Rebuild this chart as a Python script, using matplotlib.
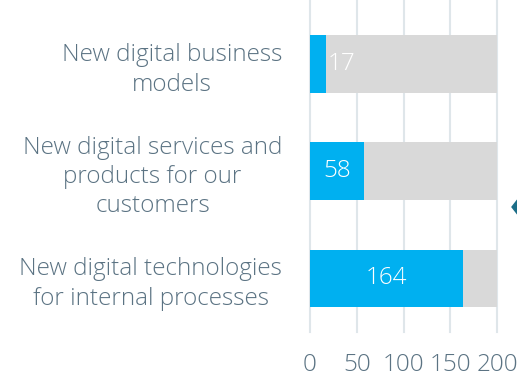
import matplotlib
matplotlib.use('Agg')
import matplotlib.pyplot as plt
from matplotlib.patches import Polygon

# data
categories = ["New digital business\nmodels",
              "New digital services and\nproducts for our\ncustomers",
              "New digital technologies\nfor internal processes"]
values = [17, 58, 164]
total = 200
xticks = [0, 50, 100, 150, 200]

blue = "#00b0f0"
grey = "#d9d9d9"
text_col = "#5b7383"
grid_col = "#dfe6ea"

plt.rcParams['font.family'] = ['Open Sans', 'DejaVu Sans']
fs = 17.5

fig = plt.figure(figsize=(5.17, 3.77), dpi=100)
ax = fig.add_axes([310 / 517, 45 / 377, 187 / 517, 332 / 377])

pos = list(range(len(categories)))
ax.barh(pos, [total] * len(pos), height=0.54, color=grey, zorder=2)
ax.barh(pos, values, height=0.54, color=blue, zorder=3)

for y, v in zip(pos, values):
    if v < 30:
        ax.text(v + 2, y, str(v), color="white", fontsize=fs, va="center", ha="left", zorder=4, fontweight="light")
    else:
        ax.text(v / 2, y, str(v), color="white", fontsize=fs, va="center", ha="center", zorder=4, fontweight="light")

ax.set_xlim(0, total)
ax.set_ylim(2.5, -0.6)
ax.set_xticks(xticks)
ax.set_xticklabels([str(t) for t in xticks], color=text_col, fontsize=fs, fontweight="light")
ax.set_yticks(pos)
ax.set_yticklabels(categories, color=text_col, fontsize=fs, multialignment="center",
                   fontweight="light", linespacing=1.3)
ax.tick_params(axis="both", length=0)
ax.tick_params(axis="y", pad=20)
ax.tick_params(axis="x", pad=15)

for t in xticks:
    ax.axvline(t, color=grid_col, lw=1.5, zorder=1, clip_on=False)
for s in ax.spines.values():
    s.set_visible(False)

# little nav arrow at the right edge
fig.patches.append(Polygon([[512 / 517, 1 - 207 / 377], [519 / 517, 1 - 198 / 377], [519 / 517, 1 - 216 / 377]],
                           closed=True, transform=fig.transFigure, color="#1c6e88"))

fig.savefig("out.png", dpi=100)
